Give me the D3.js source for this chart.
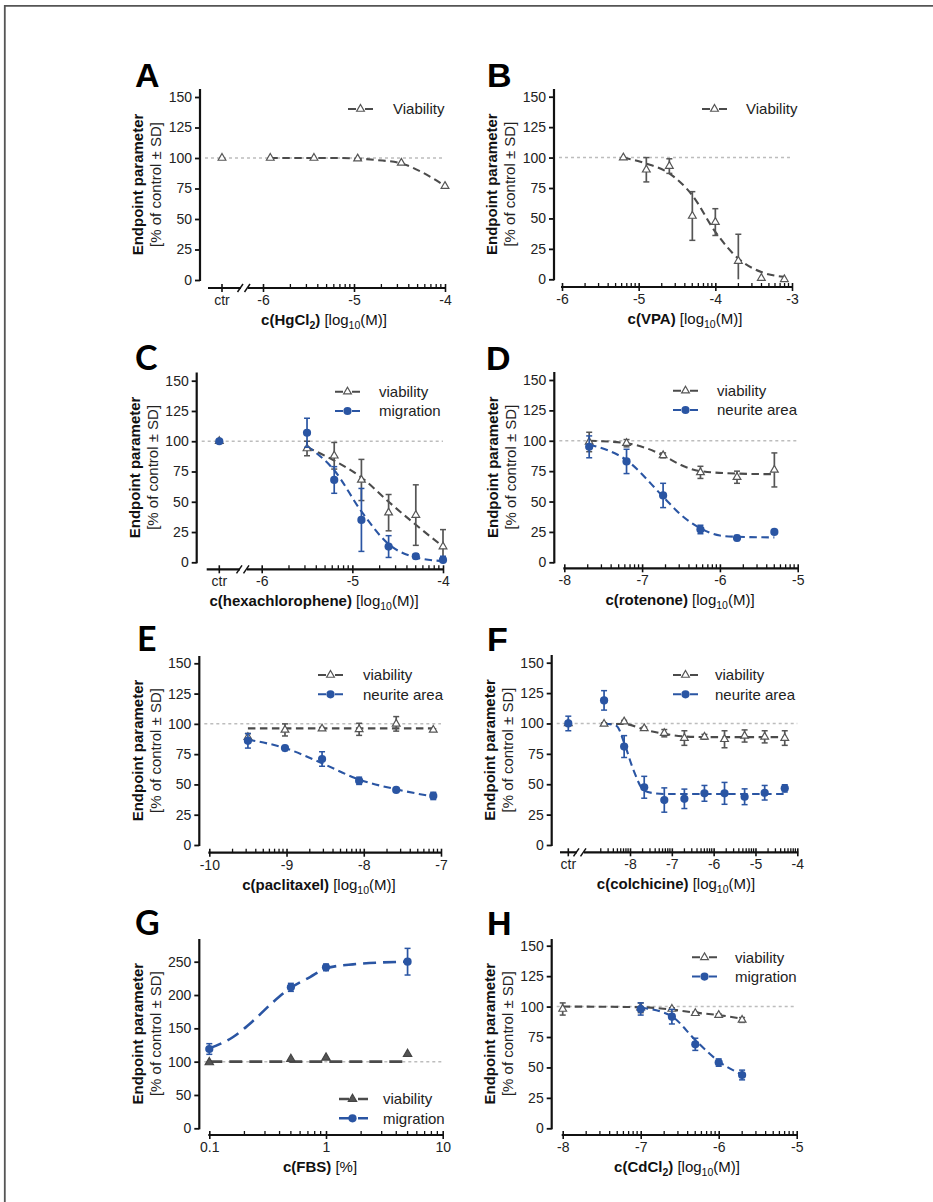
<!DOCTYPE html>
<html>
<head>
<meta charset="utf-8">
<script src="https://cdn.jsdelivr.net/npm/d3@7"></script>
<style>
  body { margin: 0; background: #fff; }
  svg { display: block; font-family: "Liberation Sans", Arial, sans-serif; }
</style>
</head>
<body>
<svg id="fig" width="933" height="1202"></svg>
<script>
// ---- data (log10 molar unless noted) ----

// A: HgCl2
const aConc = [-5.92, -5.44, -4.96, -4.48, -4.0];
const aViab = [100, 100, 99.5, 96, 77];
const aViabSD = [0, 0, 0, 0, 0];
const aViabFit = [[-5.92, 100], [-5.2, 100], [-4.96, 99.5], [-4.75, 98.3], [-4.5, 96], [-4.27, 89], [-4.0, 77]];

// B: VPA
const bConc = [-5.2, -4.9, -4.6, -4.3, -4.0, -3.7, -3.4, -3.1];
const bViab = [100, 90, 93, 52, 47, 15, 1, 0];
const bViabSD = [0, 10, 6, 20, 11, 22, 0, 0];
const bViabFit = [[-5.2, 100], [-4.9, 95], [-4.6, 87], [-4.3, 69], [-4.0, 39], [-3.7, 17], [-3.4, 6], [-3.1, 2]];

// C: hexachlorophene
const cConc = [-5.5, -5.2, -4.9, -4.6, -4.3, -4.0];
const cViab = [94, 88, 68, 41, 39, 13];
const cViabSD = [6, 11, 17, 15, 25, 14];
const cMigr = [107, 68, 35, 13, 5, 2];
const cMigrSD = [12, 11, 26, 9, 2, 3];
const cViabFit = [[-5.5, 95], [-5.2, 84], [-4.9, 70], [-4.6, 50], [-4.3, 31], [-4.0, 13]];
const cMigrFit = [[-5.5, 96], [-5.2, 76], [-4.9, 42], [-4.6, 15], [-4.3, 4], [-4.0, 1]];

// D: rotenone
const dConc = [-7.68, -7.2, -6.73, -6.25, -5.78, -5.3];
const dViab = [99, 98, 88, 74, 70, 76];
const dViabSD = [8, 3, 2, 5, 5, 14];
const dNeur = [95, 83, 55, 27, 20, 25];
const dNeurSD = [9, 10, 10, 3.5, 2, 1];
const dViabFit = [[-7.68, 100], [-7.2, 98], [-6.95, 94], [-6.73, 88], [-6.5, 80], [-6.25, 75], [-5.78, 73], [-5.3, 72.5]];
const dNeurFit = [[-7.68, 97], [-7.2, 84], [-6.73, 54], [-6.5, 39], [-6.25, 28], [-6.0, 22], [-5.78, 21], [-5.3, 20.5]];

// E: paclitaxel
const eConc = [-9.5, -9.02, -8.54, -8.06, -7.58, -7.1];
const eViab = [89, 95, 96, 95.5, 100, 95];
const eViabSD = [3, 5, 1, 5, 6, 1];
const eNeur = [86, 80, 71, 53, 45.5, 40.5];
const eNeurSD = [6, 2, 6, 3, 1, 3];
const eViabFit = [[-9.5, 96.3], [-7.1, 96.3]];
const eNeurFit = [[-9.5, 87], [-9.02, 80], [-8.54, 67.5], [-8.06, 54], [-7.58, 46], [-7.1, 40]];

// F: colchicine
const fConc = [-8.62, -8.14, -7.66, -7.18, -6.7, -6.22, -5.74, -5.26, -4.78, -4.3];
const fViab = [99.6, 101.5, 96, 92, 88, 89, 87, 89.7, 89, 88];
const fViabSD = [1, 1, 1, 3, 6, 2, 7, 5, 5, 6];
const fNeur = [119, 81, 47.5, 37, 38, 42.5, 42.5, 39.7, 43, 46.6];
const fNeurSD = [8, 9, 9, 10, 8, 6.5, 9, 6.5, 6, 3];
const fViabFit = [[-8.62, 99.6], [-8.14, 99.6], [-7.66, 95], [-7.18, 91.5], [-6.7, 89.3], [-6.22, 88.8], [-4.3, 88.8]];
const fNeurFit = [[-8.62, 100], [-8.32, 98], [-8.14, 84], [-7.92, 62], [-7.67, 45], [-7.4, 42.5], [-7.18, 42], [-4.3, 42]];

// G: FBS (% , plain values on a log axis)
const gConc = [0.1, 0.5, 1, 5];
const gViab = [99, 104, 106, 111.5];
const gViabSD = [0, 0, 0, 0];
const gMigr = [119, 211.5, 241.5, 250];
const gMigrSD = [8, 6, 5, 20];
const gViabFit = [[0.1, 100], [5, 100]];
const gMigrFit = [[0.1, 120], [0.16, 137], [0.24, 162], [0.355, 190], [0.5, 211], [0.73, 227], [1, 240], [1.7, 246], [5, 250]];

// H: CdCl2
const hConc = [-8, -7, -6.6, -6.3, -6.0, -5.7];
const hViab = [98, 99, 98, 94.5, 93, 89];
const hViabSD = [5, 4, 1, 1, 1, 2];
const hMigrConc = [-7, -6.6, -6.3, -6.0, -5.7];
const hMigr = [98, 91.7, 69, 54, 43.8];
const hMigrSD = [5, 6, 5, 3, 4];
const hViabFit = [[-8, 100], [-7, 99.5], [-6.6, 97.5], [-6.3, 95], [-6.0, 93], [-5.7, 90]];
const hMigrFit = [[-7, 99], [-6.75, 96], [-6.6, 92], [-6.3, 72.5], [-6.0, 55], [-5.7, 44]];

const yTicks150 = [0, 25, 50, 75, 100, 125, 150];
const yTicks250 = [0, 50, 100, 150, 200, 250];

const BLUE = '#2a55a3';
const GRAY = '#4b4b4b';
const AXIS = '#111';

const svg = d3.select('#fig');

// outer frame (top + left edges only)
svg.append('path').attr('d', 'M4.8,1202V5.8H933')
  .attr('fill', 'none').attr('stroke', '#555').attr('stroke-width', 1.8);

function ser(conc, val, sd, fit, kind, extra) {
  return Object.assign({ conc, val, sd, fit, kind }, extra || {});
}

const panels = [
  { key: 'A', letter: [135, 87], yAxisX: 200, y0: 280, yRef: [150, 97], yTop: 89, xAxisY: 288,
    xDom: [-6, -4], xPix: [263, 445], xStart: 208, ctrX: 222, brk: 241, titleX: 324,
    legend: { x: 348, tx: 393, y: 109 }, ticks: [-6, -5, -4], yTicks: yTicks150,
    title: [['c(HgCl', 'b'], ['2', 'bs'], [')', 'b'], [' [log', ''], ['10', 's'], ['(M)]', '']],
    series: [ser(aConc, aViab, aViabSD, aViabFit, 'tri', { label: 'Viability', ctr: 100, ctrSd: 0 })] },
  { key: 'B', letter: [487, 87], yAxisX: 554, y0: 279.3, yRef: [150, 96.7], yTop: 89, xAxisY: 287,
    xDom: [-6, -3], xPix: [562, 792], xStart: 562, titleX: 685,
    legend: { x: 702, tx: 746, y: 109 }, ticks: [-6, -5, -4, -3], yTicks: yTicks150,
    title: [['c(VPA)', 'b'], [' [log', ''], ['10', 's'], ['(M)]', '']],
    series: [ser(bConc, bViab, bViabSD, bViabFit, 'tri', { label: 'Viability' })] },
  { key: 'C', letter: [135, 370], yAxisX: 196.7, y0: 562.3, yRef: [150, 380.7], yTop: 372.5, xAxisY: 569.3,
    xDom: [-6, -4], xPix: [261.7, 443], xStart: 206.7, ctrX: 219.3, brk: 240, titleX: 314,
    legend: { x: 335, tx: 379, y: 391.7 }, ticks: [-6, -5, -4], yTicks: yTicks150, letterFont: 'Lato',
    title: [['c(hexachlorophene)', 'b'], [' [log', ''], ['10', 's'], ['(M)]', '']],
    series: [ser(cConc, cViab, cViabSD, cViabFit, 'tri', { label: 'viability', ctr: 100, ctrSd: 0 }),
             ser(cConc, cMigr, cMigrSD, cMigrFit, 'circ', { label: 'migration', ctr: 100, ctrSd: 0 })] },
  { key: 'D', letter: [486, 370], yAxisX: 554.3, y0: 562.3, yRef: [150, 380], yTop: 372, xAxisY: 568.3,
    xDom: [-8, -5], xPix: [564.3, 797.7], xStart: 564.3, titleX: 680,
    legend: { x: 673, tx: 717, y: 390.7 }, ticks: [-8, -7, -6, -5], yTicks: yTicks150,
    title: [['c(rotenone)', 'b'], [' [log', ''], ['10', 's'], ['(M)]', '']],
    series: [ser(dConc, dViab, dViabSD, dViabFit, 'tri', { label: 'viability' }),
             ser(dConc, dNeur, dNeurSD, dNeurFit, 'circ', { label: 'neurite area' })] },
  { key: 'E', letter: [137, 651], yAxisX: 199.3, y0: 845, yRef: [150, 663.3], yTop: 656, xAxisY: 852.7,
    xDom: [-10, -7], xPix: [209.3, 441], xStart: 209.3, titleX: 319,
    legend: { x: 318, tx: 363, y: 675 }, ticks: [-10, -9, -8, -7], yTicks: yTicks150, letterFont: 'Lato',
    title: [['c(paclitaxel)', 'b'], [' [log', ''], ['10', 's'], ['(M)]', '']],
    series: [ser(eConc, eViab, eViabSD, eViabFit, 'tri', { label: 'viability' }),
             ser(eConc, eNeur, eNeurSD, eNeurFit, 'circ', { label: 'neurite area' })] },
  { key: 'F', letter: [487, 651], yAxisX: 551.7, y0: 845, yRef: [150, 662.7], yTop: 655, xAxisY: 852.3,
    xDom: [-8, -4], xPix: [630, 797.3], xStart: 560, ctrX: 568.3, brk: 577, minorFrom: -9, titleX: 676,
    legend: { x: 673, tx: 715, y: 675 }, ticks: [-8, -7, -6, -5, -4], yTicks: yTicks150,
    title: [['c(colchicine)', 'b'], [' [log', ''], ['10', 's'], ['(M)]', '']],
    series: [ser(fConc, fViab, fViabSD, fViabFit, 'tri', { label: 'viability', ctr: 100, ctrSd: 0 }),
             ser(fConc, fNeur, fNeurSD, fNeurFit, 'circ', { label: 'neurite area', ctr: 100, ctrSd: 6 })] },
  { key: 'G', letter: [135, 935], yAxisX: 199.3, y0: 1128.3, yRef: [250, 961.7], yTop: 939, xAxisY: 1135,
    log: true, xDom: [0.1, 10], xPix: [209.3, 442.7], xStart: 209.3, titleX: 320, longDash: true,
    legend: { x: 339, tx: 383, y: 1099 }, ticks: [0.1, 1, 10], yTicks: yTicks250, letterFont: 'Lato',
    title: [['c(FBS)', 'b'], [' [%]', '']],
    series: [ser(gConc, gViab, gViabSD, gViabFit, 'triFill', { label: 'viability' }),
             ser(gConc, gMigr, gMigrSD, gMigrFit, 'circ', { label: 'migration' })] },
  { key: 'H', letter: [487, 935], yAxisX: 551.7, y0: 1128.3, yRef: [150, 945.7], yTop: 939, xAxisY: 1135,
    xDom: [-8, -5], xPix: [562.7, 796.7], xStart: 562.7, titleX: 677,
    legend: { x: 692, tx: 735, y: 957.3 }, ticks: [-8, -7, -6, -5], yTicks: yTicks150,
    title: [['c(CdCl', 'b'], ['2', 'bs'], [')', 'b'], [' [log', ''], ['10', 's'], ['(M)]', '']],
    series: [ser(hConc, hViab, hViabSD, hViabFit, 'tri', { label: 'viability' }),
             ser(hMigrConc, hMigr, hMigrSD, hMigrFit, 'circ', { label: 'migration' })] },
];

function marker(g, kind, cx, cy) {
  if (kind === 'circ') {
    g.append('circle').attr('cx', cx).attr('cy', cy).attr('r', 4.1).attr('fill', BLUE);
  } else {
    g.append('path').attr('d', d3.symbol(d3.symbolTriangle, kind === 'triFill' ? 30 : 26)())
      .attr('transform', `translate(${cx},${cy})`)
      .attr('fill', kind === 'triFill' ? '#555' : '#fff')
      .attr('stroke', kind === 'triFill' ? '#444' : '#555').attr('stroke-width', 1.2);
  }
}

function drawPanel(p) {
  const g = svg.append('g');
  const y = d3.scaleLinear().domain([0, p.yRef[0]]).range([p.y0, p.yRef[1]]);
  const x = (p.log ? d3.scaleLog() : d3.scaleLinear()).domain(p.xDom).range(p.xPix);
  const xEnd = p.xPix[1];

  // panel letter
  g.append('text').attr('x', p.letter[0]).attr('y', p.letter[1]).text(p.key)
    .attr('font-size', 34).attr('font-weight', 'bold')
    .attr('font-family', p.letterFont ? `${p.letterFont}, sans-serif` : null);

  // y axis
  const ya = g.append('g').attr('transform', `translate(${p.yAxisX},0)`)
    .call(d3.axisLeft(y).tickValues(p.yTicks).tickSize(5).tickPadding(3).tickSizeOuter(0));
  ya.select('.domain').remove();
  ya.attr('font-size', 14).attr('font-family', null);
  ya.selectAll('.tick line').attr('stroke', AXIS).attr('stroke-width', 1.8);
  ya.selectAll('.tick text').attr('fill', '#222');
  g.append('line').attr('x1', p.yAxisX).attr('x2', p.yAxisX)
    .attr('y1', y(0) + 1).attr('y2', p.yTop).attr('stroke', AXIS).attr('stroke-width', 2.2);

  const yc = (y(0) + p.yTop) / 2;
  g.append('text').attr('transform', `translate(${p.yAxisX - 62},${yc}) rotate(-90)`)
    .attr('text-anchor', 'middle').attr('dy', '0.35em').attr('font-size', 15).attr('font-weight', 'bold')
    .attr('fill', '#111').text('Endpoint parameter');
  g.append('text').attr('transform', `translate(${p.yAxisX - 44},${yc}) rotate(-90)`)
    .attr('text-anchor', 'middle').attr('dy', '0.35em').attr('font-size', 15)
    .attr('fill', '#222').text('[% of control \u00b1 SD]');

  // x axis line (with optional break)
  const ax = p.xAxisY;
  const axisLine = (x1, x2) => g.append('line').attr('x1', x1).attr('x2', x2).attr('y1', ax).attr('y2', ax)
    .attr('stroke', AXIS).attr('stroke-width', 2.2);
  if (p.brk) {
    axisLine(p.xStart, p.brk);
    axisLine(p.brk + 7, xEnd + 1);
    [p.brk - 1, p.brk + 6].forEach(b => g.append('line')
      .attr('x1', b - 2.5).attr('x2', b + 3).attr('y1', ax + 4).attr('y2', ax - 4)
      .attr('stroke', AXIS).attr('stroke-width', 1.5));
  } else {
    axisLine(p.xStart - 1, xEnd + 1);
  }

  // minor ticks
  const minors = [];
  if (p.log) {
    [0.1, 1].forEach(d => d3.range(2, 10).forEach(k => minors.push(d * k)));
  } else {
    const from = p.minorFrom !== undefined ? p.minorFrom : p.xDom[0];
    for (let d = from; d < p.xDom[1]; d++) d3.range(2, 10).forEach(k => minors.push(d + Math.log10(k)));
  }
  g.selectAll(null).data(minors).join('line')
    .attr('x1', d => x(d)).attr('x2', d => x(d)).attr('y1', ax).attr('y2', ax - 4)
    .attr('stroke', AXIS).attr('stroke-width', 1.3);

  // major ticks + labels
  const xa = g.append('g').attr('transform', `translate(0,${ax})`)
    .call(d3.axisBottom(x).tickValues(p.ticks).tickFormat(d => String(d)).tickSize(4).tickPadding(3));
  xa.select('.domain').remove();
  xa.attr('font-size', 14).attr('font-family', null);
  xa.selectAll('.tick line').attr('y1', -4).attr('stroke', AXIS).attr('stroke-width', 1.6);
  xa.selectAll('.tick text').attr('fill', '#222');
  if (p.ctrX) {
    g.append('line').attr('x1', p.ctrX).attr('x2', p.ctrX).attr('y1', ax - 4).attr('y2', ax + 4)
      .attr('stroke', AXIS).attr('stroke-width', 1.6);
    g.append('text').attr('x', p.ctrX).attr('y', ax + 7).attr('dy', '0.71em').attr('text-anchor', 'middle')
      .attr('font-size', 14).attr('fill', '#222').text('ctr');
  }

  // x title
  const t = g.append('text').attr('x', p.titleX).attr('y', ax + 37).attr('text-anchor', 'middle')
    .attr('font-size', 15).attr('fill', '#111');
  let shifted = false;
  p.title.forEach(([s, st]) => {
    const ts = t.append('tspan').text(s);
    if (st.includes('b')) ts.attr('font-weight', 'bold');
    const sub = st.includes('s');
    if (sub) ts.attr('font-size', 10.5);
    if (sub && !shifted) { ts.attr('dy', 4); shifted = true; }
    else if (!sub && shifted) { ts.attr('dy', -4); shifted = false; }
  });

  // reference line at 100 %
  g.append('line').attr('x1', p.yAxisX + 5).attr('x2', xEnd).attr('y1', y(100)).attr('y2', y(100))
    .attr('stroke', '#bdbdbd').attr('stroke-width', 1.5).attr('stroke-dasharray', '3,3');

  const line = d3.line().x(d => x(d[0])).y(d => y(d[1])).curve(d3.curveMonotoneX);

  p.series.forEach(s => {
    const col = s.kind === 'circ' ? BLUE : GRAY;
    g.append('path').datum(s.fit).attr('d', line).attr('fill', 'none').attr('stroke', col)
      .attr('stroke-width', p.longDash ? 2.6 : 2.1)
      .attr('stroke-dasharray', p.longDash ? '13,7' : '7.5,4.5');
  });

  p.series.forEach(s => {
    const col = s.kind === 'circ' ? BLUE : '#555';
    const pts = s.conc.map((c, i) => ({ px: x(c), v: s.val[i], sd: s.sd[i] }));
    if (s.ctr !== undefined) pts.push({ px: p.ctrX, v: s.ctr, sd: s.ctrSd });
    pts.filter(d => d.sd > 0).forEach(d => {
      const lo = Math.max(0, d.v - d.sd), hi = d.v + d.sd;
      g.append('line').attr('x1', d.px).attr('x2', d.px).attr('y1', y(lo)).attr('y2', y(hi))
        .attr('stroke', col).attr('stroke-width', 1.7);
      [hi].concat(d.v - d.sd > 0 ? [lo] : []).forEach(e => g.append('line')
        .attr('x1', d.px - 3).attr('x2', d.px + 3).attr('y1', y(e)).attr('y2', y(e))
        .attr('stroke', col).attr('stroke-width', 1.5));
    });
    pts.forEach(d => marker(g, s.kind, d.px, y(d.v)));
  });

  // legend
  p.series.forEach((s, i) => {
    const ly = p.legend.y + i * 19.3;
    const col = s.kind === 'circ' ? BLUE : GRAY;
    const w = p.longDash ? 29 : 25;
    g.append('line').attr('x1', p.legend.x).attr('x2', p.legend.x + w).attr('y1', ly).attr('y2', ly)
      .attr('stroke', col).attr('stroke-width', p.longDash ? 2.6 : 2)
      .attr('stroke-dasharray', p.longDash ? '10,9' : '8,9');
    marker(g, s.kind, p.legend.x + w / 2 - (p.longDash ? 1 : 0), ly);
    g.append('text').attr('x', p.legend.tx).attr('y', ly).attr('dy', '0.35em')
      .attr('font-size', 15).attr('fill', '#222').text(s.label);
  });
}

panels.forEach(drawPanel);
</script>
</body>
</html>
